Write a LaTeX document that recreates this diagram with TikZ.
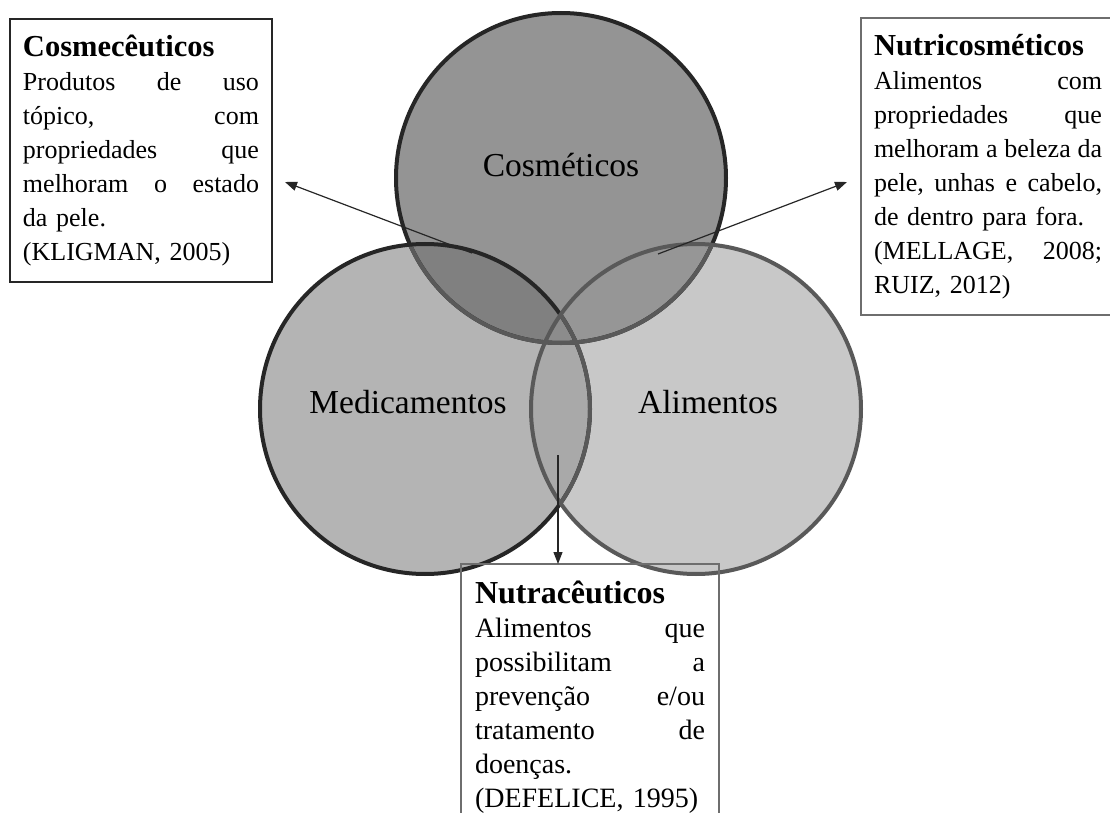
\documentclass[tikz,border=0pt]{standalone}
\usepackage{fontspec}
\setmainfont{Liberation Serif}
\usepackage{xcolor}
\usetikzlibrary{positioning,arrows.meta}

\definecolor{cosmfill}{HTML}{949494}
\definecolor{medifill}{HTML}{B4B4B4}
\definecolor{alimfill}{HTML}{C8C8C8}
\definecolor{cmfill}{HTML}{808080}
\definecolor{cafill}{HTML}{969696}
\definecolor{mafill}{HTML}{A9A9A9}
\definecolor{cmafill}{HTML}{8C8C8C}
\definecolor{darkline}{HTML}{262626}
\definecolor{softline}{HTML}{595959}
\definecolor{boxgray}{HTML}{6E6E6E}

\newcommand{\rr}{82.5pt}
\newcommand{\titlefont}{\fontsize{15.25}{17}\selectfont\bfseries}

\begin{document}
\begin{tikzpicture}[x=0.5pt,y=-0.5pt,
                    info box/.style={draw,line width=1pt,align=left,anchor=north west,
                                     inner xsep=6.5pt,inner ysep=8pt,
                                     font=\fontsize{13}{17}\selectfont},
                    circ label/.style={font=\fontsize{16.75}{20}\selectfont},
                    ring/.style={line width=2pt},
                    arr/.style={-{Triangle[length=6pt,width=4.5pt]},line width=0.6pt,draw=darkline}]

  \useasboundingbox (0,0) rectangle (1110,813);

  \coordinate (cosm) at (561,178);
  \coordinate (medi) at (425,409);
  \coordinate (alim) at (696,409);

  % fills
  \fill[cosmfill] (cosm) circle[radius=\rr];
  \fill[medifill] (medi) circle[radius=\rr];
  \fill[alimfill] (alim) circle[radius=\rr];
  \begin{scope}
    \clip (cosm) circle[radius=\rr];
    \fill[cmfill] (medi) circle[radius=\rr];
    \fill[cafill] (alim) circle[radius=\rr];
  \end{scope}
  \begin{scope}
    \clip (medi) circle[radius=\rr];
    \fill[mafill] (alim) circle[radius=\rr];
    \clip (cosm) circle[radius=\rr];
    \fill[cmafill] (alim) circle[radius=\rr];
  \end{scope}

  % outlines
  \draw[ring,darkline] (cosm) circle[radius=\rr];
  \begin{scope}
    \clip (medi) circle[radius=\rr];
    \draw[ring,softline] (cosm) circle[radius=\rr];
  \end{scope}
  \draw[ring,darkline] (medi) circle[radius=\rr];
  \begin{scope}
    \clip (alim) circle[radius=\rr];
    \draw[ring,softline] (cosm) circle[radius=\rr];
    \draw[ring,softline] (medi) circle[radius=\rr];
  \end{scope}
  \draw[ring,softline] (alim) circle[radius=\rr];

  \node[circ label] (cosmlbl) at (561,165) {Cosméticos};
  \node[circ label] (medilbl) at (408,402) {Medicamentos};
  \node[circ label] (alimlbl) at (708,402) {Alimentos};

  % text boxes
  \node[info box,text width=118pt,draw=darkline] (cosmec) at (9,18)
    {{\titlefont Cosmecêuticos}\\
     Produtos\hfill de\hfill uso\\
     tópico,\hfill com\\
     propriedades\hfill que\\
     melhoram\hfill o\hfill estado\\
     da pele.\\
     (KLIGMAN, 2005)};

  \node[info box,text width=114pt,draw=boxgray] (nutric) at (860,17)
    {{\titlefont Nutricosméticos}\\
     Alimentos\hfill com\\
     propriedades\hfill que\\
     melhoram\hfill a\hfill beleza\hfill da\\
     pele,\hfill unhas\hfill e\hfill cabelo,\\
     de dentro para fora.\\
     (MELLAGE,\hfill 2008;\\
     RUIZ, 2012)};

  \node[info box,text width=115pt,draw=none,font=\fontsize{14}{17}\selectfont] (nutra) at (461,564)
    {{\fontsize{16}{17}\selectfont\bfseries Nutracêuticos}\\
     Alimentos\hfill que\\
     possibilitam\hfill a\\
     prevenção\hfill e/ou\\
     tratamento\hfill de\\
     doenças.\\
     (DEFELICE, 1995)};
  \draw[boxgray,line width=1pt] ([yshift=-30pt]nutra.south west) |- (nutra.north east)
                                -- ([yshift=-30pt]nutra.south east);

  % arrows
  \coordinate (cmfrom) at (472,253);
  \coordinate (cmto)   at (285,182);
  \coordinate (cafrom) at (658,254);
  \coordinate (cato)   at (847,182);
  \coordinate (mafrom) at (558,455);

  \path
  (cmfrom) edge[arr] (cmto)
  (cafrom) edge[arr] (cato)
  (mafrom) edge[arr] (mafrom |- nutra.north);

\end{tikzpicture}
\end{document}
